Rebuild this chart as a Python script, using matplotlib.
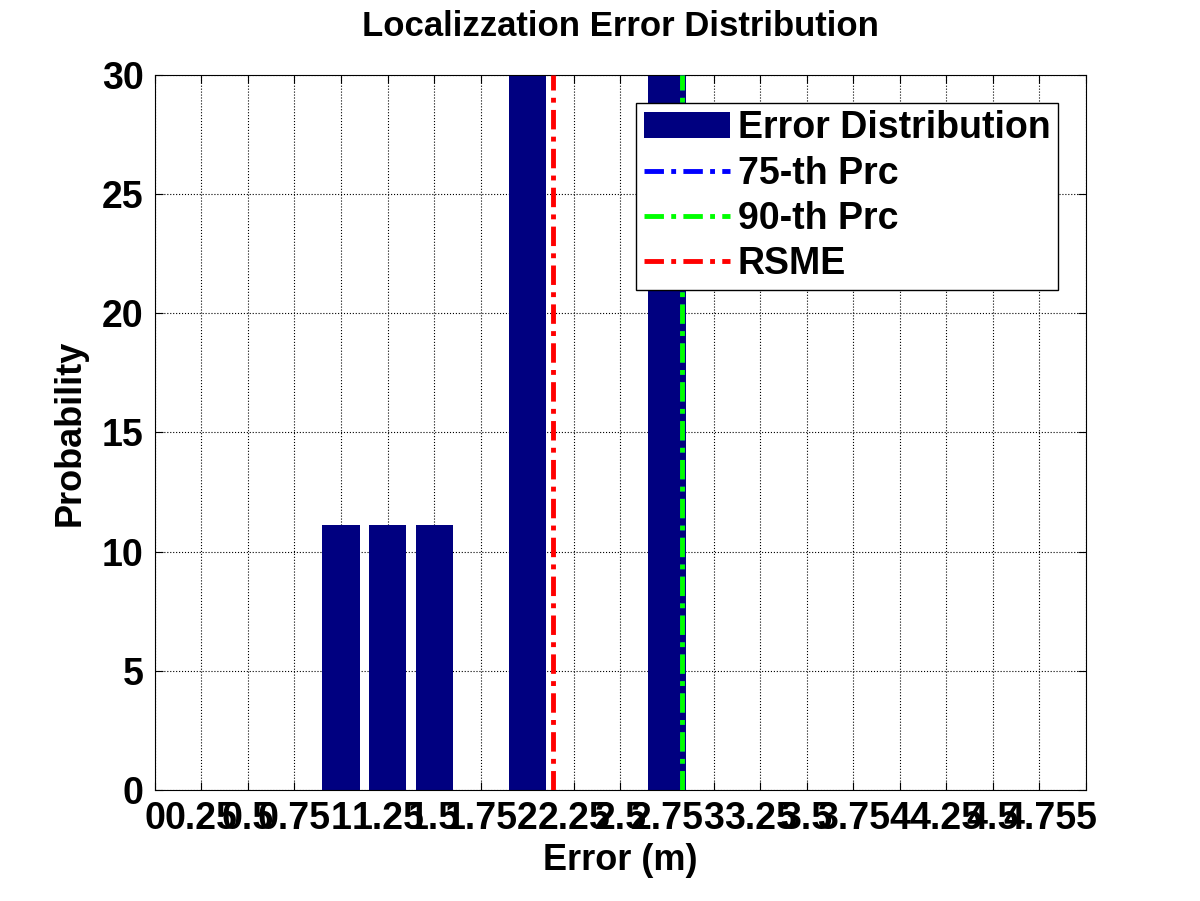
import matplotlib
matplotlib.use("Agg")
import matplotlib.pyplot as plt
import numpy as np

plt.rcParams['font.family'] = ['Liberation Sans', 'DejaVu Sans']
plt.rcParams['font.weight'] = 'bold'

bin_centers = [1.0, 1.25, 1.5, 2.0, 2.75]
probabilities = [11.11, 11.11, 11.11, 33.33, 33.33]
prc75 = 2.83
prc90 = 2.83
rsme = 2.14
xticks = np.arange(0, 5.01, 0.25)
xtick_labels = ['0', '0.25', '0.5', '0.75', '1', '1.25', '1.5', '1.75', '2', '2.25', '2.5',
                '2.75', '3', '3.25', '3.5', '3.75', '4', '4.25', '4.5', '4.75', '5']
yticks = [0, 5, 10, 15, 20, 25, 30]

fig = plt.figure(figsize=(12, 9.01), dpi=100)
ax = fig.add_axes([0.129, 0.123, 0.776, 0.794])
b = ax.bar(bin_centers, probabilities, width=0.2, color='#000080', label='Error Distribution', zorder=2)
dash = (0, (4, 1.5, 1, 1.5))
l1 = ax.axvline(prc75, color='blue', lw=3.5, ls=dash, label='75-th Prc', zorder=3)
l2 = ax.axvline(prc90, color='#00ff00', lw=3.5, ls=dash, label='90-th Prc', zorder=3)
l3 = ax.axvline(rsme, color='red', lw=3.5, ls=dash, label='RSME', zorder=3)
ax.set_xlim(0, 5)
ax.set_ylim(0, 30)
ax.set_xticks(xticks)
ax.set_xticklabels(xtick_labels)
ax.set_yticks(yticks)
ax.tick_params(labelsize=27, direction='in', top=True, right=True, length=6, pad=8)
ax.grid(True, color='black', ls=':', lw=0.8)
ax.set_axisbelow(True)
ax.set_xlabel('Error (m)', fontsize=26, fontweight='bold', labelpad=4)
ax.set_ylabel('Probability', fontsize=26, fontweight='bold', labelpad=10)
ax.set_title('Localizzation Error Distribution', fontsize=25, fontweight='bold', pad=28)
leg = ax.legend([b, l1, l2, l3], ['Error Distribution', '75-th Prc', '90-th Prc', 'RSME'],
                loc='upper right', bbox_to_anchor=(0.99, 0.987), fontsize=27, fancybox=False,
                framealpha=1, edgecolor='black', handlelength=2.3, handletextpad=0.2,
                borderpad=0.2, labelspacing=0.25)
leg.get_frame().set_linewidth(1)
fig.savefig('out.png', dpi=100)
